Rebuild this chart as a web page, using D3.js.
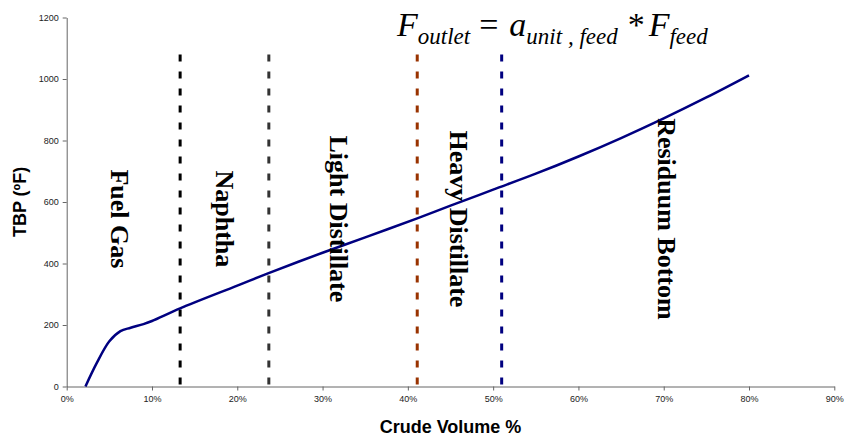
<!DOCTYPE html>
<html>
<head>
<meta charset="utf-8">
<script src="https://cdn.jsdelivr.net/npm/d3@7"></script>
<style>
  body { margin: 0; background: #fff; }
  .axis text { font-family: Arial, "Liberation Sans", sans-serif; font-size: 9px; fill: #222; }
  .axis path, .axis line { stroke: #666; }
</style>
</head>
<body>
<div id="chart"></div>
<script>
// crude volume % (x) and TBP in degF (y)
const volumePct = [2.2, 3.5, 5, 6.3, 7.5, 9, 10, 13.3, 20, 23.6, 30, 35, 41.1, 45, 50, 55, 60, 65, 70, 75, 80];
const tbpF = [0, 75, 147, 180, 191, 203, 213, 254, 328, 368, 435, 485, 547, 588, 640, 692, 748, 808, 872, 940, 1012];

// cut points between fractions
const cutPct = [13.3, 23.7, 41.1, 51.0];
const cutColors = ['#000000', '#333333', '#993300', '#000080'];
const cutTop = 1080;

const fractionNames = ['Fuel Gas', 'Naphtha', 'Light Distillate', 'Heavy Distillate', 'Residuum Bottom'];
const fractionPct = [6.3, 18.6, 31.9, 46.0, 70.4];
const fractionTbp = [545, 545, 545, 545, 545];

const xTicks = [0, 10, 20, 30, 40, 50, 60, 70, 80, 90];
const yTicks = [0, 200, 400, 600, 800, 1000, 1200];

const W = 844, H = 439;
const margin = { top: 17.5, right: 9.7, bottom: 52.5, left: 66.7 };
const width = W - margin.left - margin.right;
const height = H - margin.top - margin.bottom;

const svg = d3.select('#chart').append('svg')
  .attr('width', W)
  .attr('height', H);

const g = svg.append('g')
  .attr('transform', `translate(${margin.left},${margin.top})`);

const x = d3.scaleLinear().domain([0, 90]).range([0, width]);
const y = d3.scaleLinear().domain([0, 1200]).range([height, 0]);

// axes
g.append('g')
  .attr('class', 'axis axis-x')
  .attr('transform', `translate(0,${height})`)
  .call(d3.axisBottom(x).tickValues(xTicks).tickSize(4).tickSizeOuter(0).tickPadding(5).tickFormat(d => d + '%'));

g.append('g')
  .attr('class', 'axis axis-y')
  .call(d3.axisLeft(y).tickValues(yTicks).tickSize(4).tickSizeOuter(0).tickPadding(4).tickFormat(d3.format('d')));

// dashed cut lines
g.selectAll('.cut')
  .data(cutPct)
  .enter().append('line')
  .attr('class', 'cut')
  .attr('x1', d => x(d))
  .attr('x2', d => x(d))
  .attr('y1', y(cutTop))
  .attr('y2', y(0))
  .attr('stroke', (d, i) => cutColors[i])
  .attr('stroke-width', 3)
  .attr('stroke-dasharray', '7,10');

// TBP curve
const pts = volumePct.map((v, i) => [v, tbpF[i]]);
const line = d3.line()
  .x(d => x(d[0]))
  .y(d => y(d[1]))
  .curve(d3.curveCatmullRom.alpha(0.5));

g.append('path')
  .datum(pts)
  .attr('fill', 'none')
  .attr('stroke', '#000080')
  .attr('stroke-width', 2.5)
  .attr('d', line);

// fraction labels, rotated
g.selectAll('.frac')
  .data(fractionNames)
  .enter().append('text')
  .attr('class', 'frac')
  .attr('transform', (d, i) => `translate(${x(fractionPct[i])},${y(fractionTbp[i])}) rotate(90)`)
  .attr('text-anchor', 'middle')
  .attr('dy', '0.35em')
  .style('font-family', '"Liberation Serif", "Times New Roman", serif')
  .style('font-weight', 'bold')
  .style('font-size', '26px')
  .text(d => d);

// axis titles
svg.append('text')
  .attr('transform', `translate(26,${margin.top + y(600)}) rotate(-90)`)
  .attr('text-anchor', 'middle')
  .style('font-family', 'Arial, "Liberation Sans", sans-serif')
  .style('font-weight', 'bold')
  .style('font-size', '18px')
  .text('TBP (ºF)');

svg.append('text')
  .attr('x', margin.left + x(45))
  .attr('y', 433)
  .attr('text-anchor', 'middle')
  .style('font-family', 'Arial, "Liberation Sans", sans-serif')
  .style('font-weight', 'bold')
  .style('font-size', '18px')
  .text('Crude Volume %');

// equation
const eq = svg.append('text')
  .attr('x', 397)
  .attr('y', 36)
  .style('font-family', '"Liberation Serif", "Times New Roman", serif')
  .style('font-size', '34px');

eq.append('tspan').style('font-style', 'italic').text('F');
eq.append('tspan').style('font-style', 'italic').style('font-size', '23px').attr('dy', 8).text('outlet');
eq.append('tspan').attr('dy', -8).attr('dx', 9).text('=');
eq.append('tspan').style('font-style', 'italic').attr('dx', 11).text('a');
eq.append('tspan').style('font-style', 'italic').style('font-size', '23px').attr('dy', 8).text('unit , feed');
eq.append('tspan').attr('dy', -8).attr('dx', 10).text('*');
eq.append('tspan').style('font-style', 'italic').attr('dx', 4).text('F');
eq.append('tspan').style('font-style', 'italic').style('font-size', '23px').attr('dy', 8).text('feed');
</script>
</body>
</html>
